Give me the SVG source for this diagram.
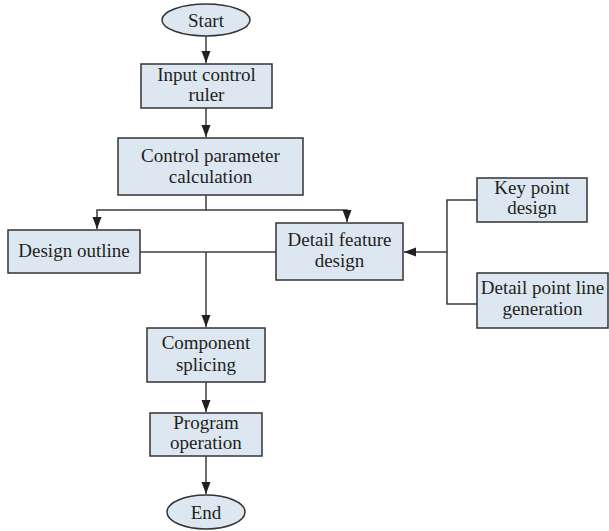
<svg xmlns="http://www.w3.org/2000/svg" width="609" height="531" viewBox="0 0 609 531">
<style>
.box{fill:#dde7f2;stroke:#333;stroke-width:1.5}
.t{font-family:"Liberation Serif","Times New Roman",serif;font-size:19px;fill:#231f20;text-anchor:middle}
.c{fill:none;stroke:#3c3c3c;stroke-width:1.5}
</style>
<defs>
<marker id="ah" markerUnits="userSpaceOnUse" markerWidth="12" markerHeight="12" viewBox="0 0 12 12" refX="12" refY="6" orient="auto">
<path d="M0,1.5 L12,6 L0,10.5 Z" fill="#231f20"/>
</marker>
</defs>
<g id="connectors">
<line class="c" x1="206" y1="36" x2="206" y2="63" marker-end="url(#ah)"/>
<line class="c" x1="206" y1="108" x2="206" y2="137" marker-end="url(#ah)"/>
<polyline class="c" points="206,195 206,210 97,210 97,229" marker-end="url(#ah)"/>
<polyline class="c" points="206,210 347,210 347,222" marker-end="url(#ah)"/>
<line class="c" x1="140" y1="252" x2="276" y2="252"/>
<line class="c" x1="206" y1="252" x2="206" y2="327" marker-end="url(#ah)"/>
<polyline class="c" points="477,200 447,200 447,304 477,304"/>
<line class="c" x1="447" y1="252" x2="404" y2="252" marker-end="url(#ah)"/>
<line class="c" x1="206" y1="382" x2="206" y2="412" marker-end="url(#ah)"/>
<line class="c" x1="206" y1="456" x2="206" y2="494" marker-end="url(#ah)"/>
</g>
<g id="start">
<ellipse class="box" cx="206" cy="20" rx="44" ry="16"/>
<text class="t" x="206" y="27">Start</text>
</g>
<g id="input">
<rect class="box" x="141" y="64" width="131" height="44"/>
<text class="t" x="206.5" y="81">Input control</text>
<text class="t" x="206.5" y="101">ruler</text>
</g>
<g id="param">
<rect class="box" x="118" y="138" width="185" height="57"/>
<text class="t" x="210.5" y="162">Control parameter</text>
<text class="t" x="210.5" y="183">calculation</text>
</g>
<g id="outline">
<rect class="box" x="8" y="230" width="132" height="43"/>
<text class="t" x="74" y="257">Design outline</text>
</g>
<g id="detail">
<rect class="box" x="276" y="223" width="127" height="57"/>
<text class="t" x="339.5" y="246">Detail feature</text>
<text class="t" x="339.5" y="267">design</text>
</g>
<g id="keypoint">
<rect class="box" x="477" y="178" width="110" height="44"/>
<text class="t" x="532" y="194">Key point</text>
<text class="t" x="532" y="214">design</text>
</g>
<g id="pointline">
<rect class="box" x="477" y="273" width="131" height="55"/>
<text class="t" x="542.5" y="294">Detail point line</text>
<text class="t" x="542.5" y="315">generation</text>
</g>
<g id="splicing">
<rect class="box" x="147" y="328" width="118" height="54"/>
<text class="t" x="206" y="349">Component</text>
<text class="t" x="206" y="371">splicing</text>
</g>
<g id="program">
<rect class="box" x="150" y="413" width="112" height="43"/>
<text class="t" x="206" y="429">Program</text>
<text class="t" x="206" y="449">operation</text>
</g>
<g id="end">
<ellipse class="box" cx="206" cy="512" rx="39" ry="17"/>
<text class="t" x="206" y="519">End</text>
</g>
</svg>
